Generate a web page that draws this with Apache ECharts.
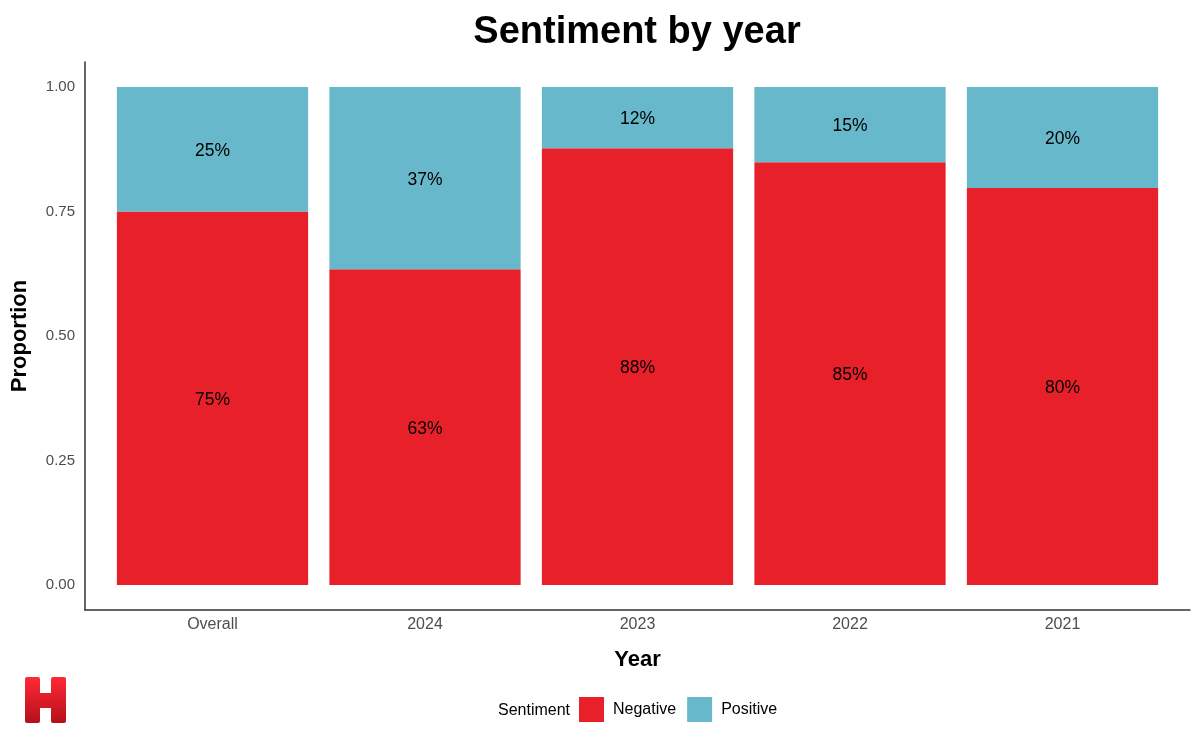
<!DOCTYPE html>
<html>
<head>
<meta charset="utf-8">
<script src="https://cdn.jsdelivr.net/npm/echarts@6/dist/echarts.min.js"></script>
<style>
html,body{margin:0;padding:0;background:#fff;}
#chart{width:1200px;height:742px;}
</style>
</head>
<body>
<div id="chart"></div>
<script>
const categories = ['Overall', '2024', '2023', '2022', '2021'];
const negative = [0.750, 0.634, 0.877, 0.849, 0.797];
const positive = [0.250, 0.366, 0.123, 0.151, 0.203];
const yTicks = [0, 0.25, 0.5, 0.75, 1];
const xPositions = [1, 2, 3, 4, 5];

const FONT = '"Liberation Sans", Arial, Helvetica, sans-serif';
const RED = '#E8202A';
const BLUE = '#67B8CB';

const chart = echarts.init(document.getElementById('chart'));

function pct(p) { return Math.round(p.value[0] * 100) + '%'; }

chart.setOption({
  animation: false,
  textStyle: { fontFamily: FONT },
  title: {
    text: 'Sentiment by year',
    left: 632, textAlign: 'center', top: 9,
    textStyle: { fontFamily: FONT, fontSize: 38, fontWeight: 'bold', color: '#000' }
  },
  grid: { left: 85, right: 10, top: 62, bottom: 132, containLabel: false, outerBoundsMode: 'none' },
  xAxis: {
    type: 'value',
    min: 0.4, max: 5.6,
    name: 'Year', nameLocation: 'middle', nameGap: 39,
    nameTextStyle: { fontFamily: FONT, fontSize: 22, fontWeight: 'bold', color: '#000' },
    axisLine: { show: true, onZero: false, lineStyle: { color: '#333', width: 1.5 } },
    axisTick: { show: false },
    splitLine: { show: false },
    axisLabel: {
      customValues: xPositions,
      formatter: v => categories[Math.round(v) - 1] || '',
      fontFamily: FONT, fontSize: 16, color: '#4d4d4d', margin: 7
    }
  },
  yAxis: {
    type: 'value',
    min: -0.05, max: 1.05,
    name: 'Proportion', nameLocation: 'middle', nameGap: 54, nameRotate: 90,
    nameTextStyle: { fontFamily: FONT, fontSize: 22, fontWeight: 'bold', color: '#000' },
    axisLine: { show: true, onZero: false, lineStyle: { color: '#333', width: 1.5 } },
    axisTick: { show: false },
    splitLine: { show: false },
    axisLabel: {
      customValues: yTicks,
      formatter: v => v.toFixed(2),
      fontFamily: FONT, fontSize: 15, color: '#4d4d4d', margin: 10,
      padding: [6, 0, 0, 0]
    }
  },
  legend: {
    data: ['Negative', 'Positive'],
    left: 579, top: 697, padding: 0,
    icon: 'rect', itemWidth: 25, itemHeight: 25, itemGap: 11,
    textStyle: { fontFamily: FONT, fontSize: 16, color: '#000', padding: [6, 0, 0, 4] }
  },
  graphic: [
    { type: 'text', left: 498, top: 703,
      style: { text: 'Sentiment', fontFamily: FONT, fontSize: 16, fill: '#000' } },
    { type: 'group', left: 25, top: 677, children: [
      { type: 'rect', shape: { x: 0, y: 0, width: 15, height: 46, r: 2 },
        style: { fill: new echarts.graphic.LinearGradient(0, 0, 0, 1, [{offset: 0, color: '#ff2a36'}, {offset: 1, color: '#b50f1c'}]) } },
      { type: 'rect', shape: { x: 26, y: 0, width: 15, height: 46, r: 2 },
        style: { fill: new echarts.graphic.LinearGradient(0, 0, 0, 1, [{offset: 0, color: '#ff2a36'}, {offset: 1, color: '#b50f1c'}]) } },
      { type: 'rect', shape: { x: 12, y: 16, width: 17, height: 15 },
        style: { fill: new echarts.graphic.LinearGradient(0, 0, 0, 1, [{offset: 0, color: '#e51f2c'}, {offset: 1, color: '#d01826'}]) } }
    ] }
  ],
  series: [
    {
      name: 'Negative', type: 'bar', stack: 'total', barWidth: '90%',
      encode: { x: 1, y: 0 },
      itemStyle: { color: RED },
      label: { show: true, position: 'inside', offset: [0, 2], formatter: pct, fontFamily: FONT, fontSize: 17.5, color: '#000' },
      data: xPositions.map((x, i) => [negative[i], x])
    },
    {
      name: 'Positive', type: 'bar', stack: 'total', barWidth: '90%',
      encode: { x: 1, y: 0 },
      itemStyle: { color: BLUE },
      label: { show: true, position: 'inside', offset: [0, 2], formatter: pct, fontFamily: FONT, fontSize: 17.5, color: '#000' },
      data: xPositions.map((x, i) => [positive[i], x])
    }
  ]
});
</script>
</body>
</html>
